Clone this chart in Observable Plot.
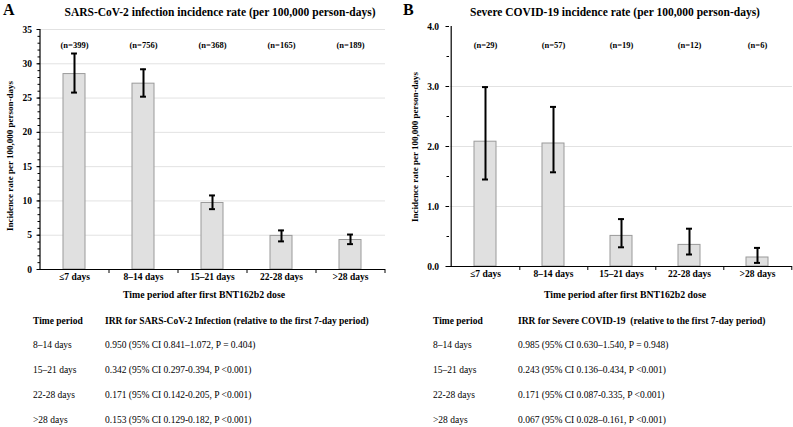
<!DOCTYPE html>
<html><head><meta charset="utf-8">
<script src="https://cdn.jsdelivr.net/npm/d3@7"></script>
<script src="https://cdn.jsdelivr.net/npm/@observablehq/plot@0.6"></script>
<style>
body{margin:0;background:#fff;}
#wrap{position:relative;width:793px;height:427px;font-family:"Liberation Serif","Times New Roman",serif;color:#000;overflow:hidden;background:#fff;}
.t{position:absolute;white-space:pre;line-height:1;}
svg{position:absolute;top:0;}
</style></head><body><div id="wrap"></div>
<script>
const categories = ["≤7 days", "8–14 days", "15–21 days", "22-28 days", ">28 days"];

// Panel A: SARS-CoV-2 infection
const nA = [399, 756, 368, 165, 189];
const rateA = [28.5, 27.1, 9.7, 4.9, 4.3];
const loA = [25.8, 25.2, 8.8, 4.1, 3.7];
const hiA = [31.5, 29.2, 10.8, 5.7, 5.1];
const yTicksA = [0, 5, 10, 15, 20, 25, 30, 35];

// Panel B: Severe COVID-19
const nB = [29, 57, 19, 12, 6];
const rateB = [2.08, 2.05, 0.51, 0.36, 0.15];
const loB = [1.45, 1.57, 0.32, 0.20, 0.06];
const hiB = [2.99, 2.66, 0.79, 0.63, 0.31];
const yTicksB = [0, 1, 2, 3, 4];

const titleA = "SARS-CoV-2 infection incidence rate (per 100,000 person-days)";
const titleB = "Severe COVID-19 incidence rate (per 100,000 person-days)";
const yTitle = "Incidence rate per 100,000 person-days";
const xTitle = "Time period after first BNT162b2 dose";

const tableHeadA = ["Time period", "IRR for SARS-CoV-2 Infection (relative to the first 7-day period)"];
const tableHeadB = ["Time period", "IRR for Severe COVID-19  (relative to the first 7-day period)"];
const tablePeriods = ["8–14 days", "15–21 days", "22-28 days", ">28 days"];
const tableA = [
  "0.950 (95% CI 0.841–1.072, P = 0.404)",
  "0.342 (95% CI 0.297-0.394, P <0.001)",
  "0.171 (95% CI 0.142-0.205, P <0.001)",
  "0.153 (95% CI 0.129-0.182, P <0.001)"
];
const tableB = [
  "0.985 (95% CI 0.630–1.540, P = 0.948)",
  "0.243 (95% CI 0.136–0.434, P <0.001)",
  "0.171 (95% CI 0.087-0.335, P <0.001)",
  "0.067 (95% CI 0.028–0.161, P <0.001)"
];

const wrap = document.getElementById("wrap");
const FONT = "Liberation Serif, Times New Roman, serif";

function panel(o) {
  const data = categories.map((c, i) => ({c, r: o.rate[i], lo: o.lo[i], hi: o.hi[i], n: o.n[i]}));
  const H = 310;
  const step = (o.width - o.ml - o.mr) / categories.length;
  const bw = step * 0.32;
  const cap = 6;
  const d0 = o.yDomain[0], d1 = o.yDomain[1];
  const svg = Plot.plot({
    width: o.width, height: H,
    marginLeft: o.ml, marginRight: o.mr, marginTop: o.mt, marginBottom: H - o.bottom,
    style: {fontFamily: FONT, fontWeight: "bold", fontSize: "9px", background: "transparent", color: "#000"},
    x: {domain: categories, paddingInner: 0.68, paddingOuter: 0.34, label: null},
    y: {domain: o.yDomain, label: null},
    marks: [
      Plot.gridY(o.grid, {stroke: "#e2e2e2", strokeOpacity: 1, strokeWidth: 1}),
      Plot.barY(data, {x: "c", y: "r", fill: "#e0e0e0", stroke: "#9a9a9a", strokeWidth: 1}),
      Plot.ruleX(data, {x: "c", y1: "lo", y2: "hi", stroke: "#000", strokeWidth: 2}),
      Plot.tickY(data, {x: "c", y: "lo", stroke: "#000", strokeWidth: 2, insetLeft: (bw - cap) / 2, insetRight: (bw - cap) / 2}),
      Plot.tickY(data, {x: "c", y: "hi", stroke: "#000", strokeWidth: 2, insetLeft: (bw - cap) / 2, insetRight: (bw - cap) / 2}),
      Plot.text(data, {x: "c", y: d1, dy: o.ndy, text: d => `(n=${d.n})`, fontSize: 8.5, fontWeight: "bold", fill: "#000"}),
      Plot.axisY({ticks: o.yMinor, tickSize: 2.5, tickFormat: () => "", stroke: "#000"}),
      Plot.axisY({ticks: o.yTicks, tickSize: 3.5, tickPadding: o.tp, tickFormat: o.fmt, fontSize: 9.5, fontWeight: "bold", stroke: "#000", fill: "#000"}),
      Plot.axisX({tickSize: 0, tickPadding: 4, fontSize: 9.5, fontWeight: "bold", fill: "#000"}),
      Plot.ruleY([d0], {stroke: "#000", strokeWidth: 1.2}),
      Plot.ruleX([categories[0]], {dx: -step / 2, y1: d0, y2: d1, stroke: "#000", strokeWidth: 1.2}),
      Plot.ruleX(categories, {dx: step / 2, y1: d0, y2: d0, insetTop: 4, stroke: "#000", strokeWidth: 1})
    ]
  });
  svg.style.left = o.left + "px";
  wrap.appendChild(svg);
}

panel({
  left: 0, width: 396, ml: 40, mr: 11, mt: 29, bottom: 269,
  rate: rateA, lo: loA, hi: hiA, n: nA, yDomain: [0, 35], yTicks: yTicksA,
  yMinor: d3.range(0, 36, 1), grid: yTicksA.filter(d => d > 0), fmt: d3.format("d"), ndy: 16, tp: 5
});
panel({
  left: 400, width: 393, ml: 49, mr: 1, mt: 26, bottom: 266,
  rate: rateB, lo: loB, hi: hiB, n: nB, yDomain: [0, 4], yTicks: yTicksB,
  yMinor: d3.range(0, 4.01, 0.5), grid: [1, 2, 3], fmt: d3.format(".1f"), ndy: 19, tp: 7
});

function txt(s, x, y, opts = {}) {
  const el = document.createElement("div");
  el.className = "t";
  el.textContent = s;
  el.style.left = x + "px";
  el.style.top = y + "px";
  el.style.fontSize = (opts.size || 9) + "px";
  el.style.fontWeight = opts.bold ? "bold" : "normal";
  const ax = opts.anchor === "middle" ? "-50%" : "0";
  el.style.transform = `translate(${ax}, -50%)` + (opts.rotate ? " rotate(-90deg)" : "");
  wrap.appendChild(el);
  return el;
}

txt("A", 3, 10, {size: 16, bold: true});
txt("B", 403, 10, {size: 16, bold: true});
txt(titleA, 220, 13, {size: 11.5, bold: true, anchor: "middle"});
txt(titleB, 615, 13, {size: 11.5, bold: true, anchor: "middle"});
txt(xTitle, 204, 295, {size: 9.8, bold: true, anchor: "middle"});
txt(xTitle, 625, 295, {size: 9.8, bold: true, anchor: "middle"});
txt(yTitle, 10, 156, {size: 9, bold: true, anchor: "middle", rotate: true});
txt(yTitle, 415, 147, {size: 9, bold: true, anchor: "middle", rotate: true});

const rowsY = [346, 371, 396, 421];
const TS = 9.5;
txt(tableHeadA[0], 33, 322, {size: TS, bold: true});
txt(tableHeadA[1], 105, 322, {size: TS, bold: true});
txt(tableHeadB[0], 433, 322, {size: TS, bold: true});
txt(tableHeadB[1], 518, 322, {size: TS, bold: true});
tablePeriods.forEach((p, i) => {
  txt(p, 33, rowsY[i], {size: TS});
  txt(tableA[i], 105, rowsY[i], {size: TS});
  txt(p, 433, rowsY[i], {size: TS});
  txt(tableB[i], 518, rowsY[i], {size: TS});
});
</script>
</body></html>
